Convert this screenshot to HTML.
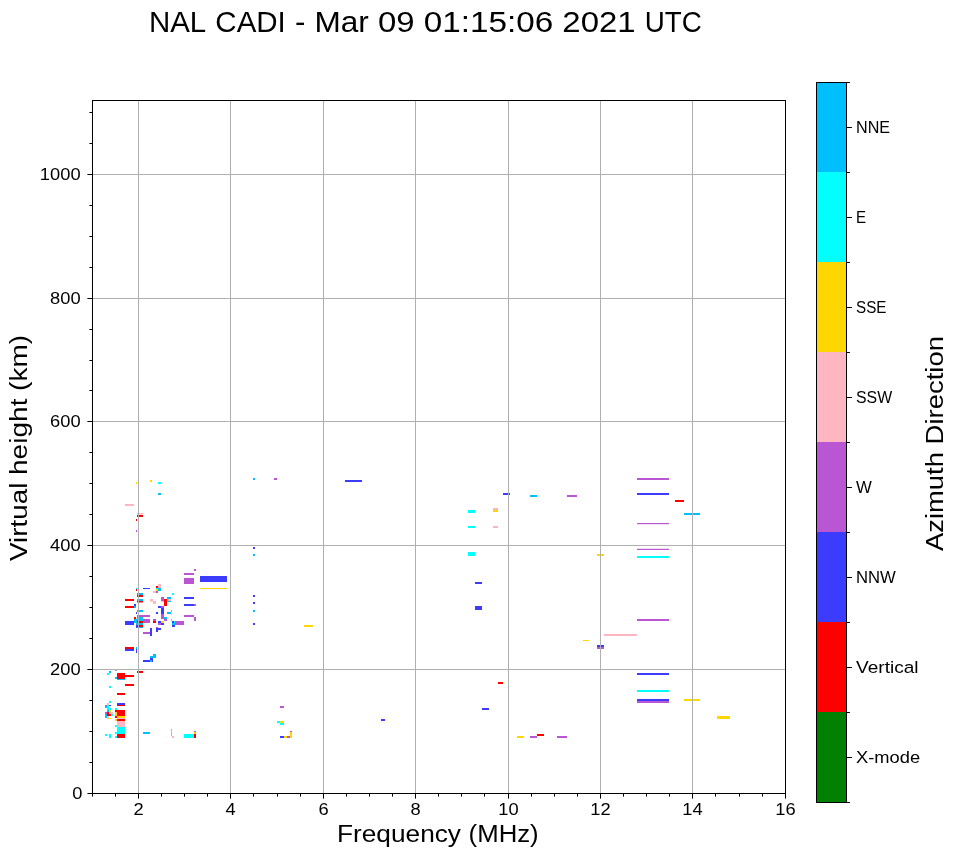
<!DOCTYPE html>
<html><head><meta charset="utf-8"><style>
html,body{margin:0;padding:0;background:#fff;}
svg{display:block;font-family:"Liberation Sans",sans-serif;will-change:transform;}
</style></head><body>
<svg width="958" height="857" viewBox="0 0 958 857">
<rect width="958" height="857" fill="#fff"/>
<g><rect x="253" y="478" width="2" height="2" fill="#00bfff"/><rect x="274" y="478" width="3" height="2" fill="#ba55d3"/><rect x="345" y="480" width="17" height="2" fill="#3c3cff"/><rect x="503" y="493" width="7" height="2" fill="#3c3cff"/><rect x="468" y="510" width="7" height="3" fill="#00ffff"/><rect x="493" y="508" width="5" height="2" fill="#ffb6c1"/><rect x="493" y="510" width="5" height="2" fill="#ffd700"/><rect x="468" y="526" width="7" height="2" fill="#00ffff"/><rect x="493" y="526" width="5" height="2" fill="#ffb6c1"/><rect x="530" y="495" width="7" height="2" fill="#00bfff"/><rect x="567" y="495" width="10" height="2" fill="#ba55d3"/><rect x="468" y="552" width="7" height="4" fill="#00ffff"/><rect x="475" y="582" width="7" height="2" fill="#3c3cff"/><rect x="475" y="606" width="7" height="4" fill="#3c3cff"/><rect x="253" y="547" width="2" height="2" fill="#3c3cff"/><rect x="253" y="554" width="2" height="2" fill="#00bfff"/><rect x="253" y="595" width="2" height="2" fill="#3c3cff"/><rect x="253" y="602" width="2" height="2" fill="#3c3cff"/><rect x="253" y="610" width="2" height="2" fill="#00bfff"/><rect x="253" y="623" width="2" height="2" fill="#3c3cff"/><rect x="304" y="625" width="9" height="2" fill="#ffd700"/><rect x="637" y="478" width="32" height="2" fill="#ba55d3"/><rect x="637" y="493" width="32" height="2" fill="#3c3cff"/><rect x="675" y="500" width="9" height="2" fill="#ff0000"/><rect x="684" y="513" width="16" height="2" fill="#00bfff"/><rect x="637" y="523" width="32" height="1.2" fill="#ba55d3"/><rect x="637" y="548.8" width="32" height="1.2" fill="#ba55d3"/><rect x="637" y="556" width="32" height="2" fill="#00ffff"/><rect x="637" y="619" width="32" height="2" fill="#ba55d3"/><rect x="604" y="634" width="33" height="2" fill="#ffb6c1"/><rect x="583" y="640" width="6" height="1" fill="#ffd700"/><rect x="597" y="645" width="7" height="2" fill="#3c3cff"/><rect x="597" y="647" width="7" height="2" fill="#ba55d3"/><rect x="637" y="673" width="32" height="2" fill="#3c3cff"/><rect x="637" y="690" width="32" height="2" fill="#00ffff"/><rect x="637" y="699" width="32" height="2" fill="#3c3cff"/><rect x="637" y="701" width="32" height="2" fill="#ba55d3"/><rect x="684" y="699" width="16" height="2" fill="#ffd700"/><rect x="717" y="716" width="13" height="3" fill="#ffd700"/><rect x="498" y="682" width="5" height="2" fill="#ff0000"/><rect x="482" y="708" width="7" height="2" fill="#3c3cff"/><rect x="517" y="736" width="7" height="2" fill="#ffd700"/><rect x="530" y="736" width="7" height="2" fill="#ba55d3"/><rect x="537" y="734" width="7" height="2" fill="#ff0000"/><rect x="557" y="736" width="10" height="2" fill="#ba55d3"/><rect x="280" y="706" width="4" height="2" fill="#ba55d3"/><rect x="277" y="721" width="3" height="2" fill="#00ffff"/><rect x="280" y="721" width="4" height="2" fill="#ffd700"/><rect x="280" y="723" width="4" height="2" fill="#00ffff"/><rect x="280" y="736" width="4" height="2" fill="#3c3cff"/><rect x="284" y="736" width="3" height="2" fill="#ffd700"/><rect x="287" y="736" width="3" height="2" fill="#ba55d3"/><rect x="290" y="732" width="2" height="6" fill="#ffd700"/><rect x="290" y="731" width="2" height="1" fill="#ba55d3"/><rect x="381" y="719" width="4" height="2" fill="#3c3cff"/><rect x="194" y="569" width="2" height="2" fill="#ba55d3"/><rect x="184" y="573" width="10" height="2" fill="#ba55d3"/><rect x="184" y="578" width="10" height="6" fill="#ba55d3"/><rect x="200" y="576" width="27" height="6" fill="#3c3cff"/><rect x="200" y="588" width="27" height="1" fill="#ffd700"/><rect x="172" y="593" width="2" height="2" fill="#00ffff"/><rect x="184" y="597" width="10" height="2" fill="#3c3cff"/><rect x="184" y="604" width="10" height="2" fill="#3c3cff"/><rect x="194" y="604" width="2" height="2" fill="#ba55d3"/><rect x="184" y="615" width="10" height="2" fill="#ba55d3"/><rect x="194" y="617" width="2" height="4" fill="#ba55d3"/><rect x="175" y="621" width="9" height="4" fill="#ba55d3"/><rect x="136" y="588" width="1" height="1" fill="#00ffff"/><rect x="136" y="589" width="1" height="2" fill="#ff0000"/><rect x="143" y="588" width="7" height="1" fill="#3c3cff"/><rect x="158" y="584" width="3" height="4" fill="#ffb6c1"/><rect x="156" y="586" width="2" height="2" fill="#ff0000"/><rect x="156" y="588" width="2" height="1" fill="#00ffff"/><rect x="158" y="588" width="3" height="3" fill="#00bfff"/><rect x="156" y="589" width="2" height="2" fill="#ffd700"/><rect x="153" y="591" width="3" height="2" fill="#ffb6c1"/><rect x="156" y="591" width="2" height="2" fill="#ba55d3"/><rect x="137" y="593" width="6" height="2" fill="#00bfff"/><rect x="137" y="595" width="6" height="2" fill="#ff0000"/><rect x="137" y="599" width="6" height="2" fill="#00bfff"/><rect x="137" y="601" width="6" height="1.5" fill="#ff0000"/><rect x="150" y="599" width="3" height="2.5" fill="#ffb6c1"/><rect x="153" y="601" width="3" height="3" fill="#ffb6c1"/><rect x="161" y="597" width="3" height="4" fill="#ba55d3"/><rect x="161" y="601" width="3" height="1" fill="#ffb6c1"/><rect x="164" y="599" width="3" height="7" fill="#ff0000"/><rect x="167" y="597" width="4" height="2" fill="#00bfff"/><rect x="167" y="599" width="4" height="2" fill="#ffb6c1"/><rect x="167" y="601" width="4" height="1" fill="#00bfff"/><rect x="125" y="599" width="9" height="2" fill="#ff0000"/><rect x="134" y="604" width="2" height="2" fill="#3c3cff"/><rect x="125" y="606" width="9" height="2" fill="#ff0000"/><rect x="134" y="606" width="2" height="2" fill="#00bfff"/><rect x="137" y="610" width="6" height="2" fill="#00bfff"/><rect x="136" y="612" width="1" height="2" fill="#3c3cff"/><rect x="137" y="615" width="13" height="2" fill="#ba55d3"/><rect x="134" y="617" width="2" height="2" fill="#ff0000"/><rect x="137" y="617" width="6" height="4" fill="#00bfff"/><rect x="134" y="619" width="3" height="4" fill="#00bfff"/><rect x="143" y="619" width="7" height="4" fill="#ba55d3"/><rect x="125" y="621" width="9" height="4" fill="#3c3cff"/><rect x="137" y="621" width="6" height="2" fill="#ff0000"/><rect x="136" y="623" width="7" height="2" fill="#00bfff"/><rect x="137" y="625" width="6" height="2" fill="#ff0000"/><rect x="137" y="627" width="6" height="1" fill="#00bfff"/><rect x="136" y="625" width="1" height="3" fill="#3c3cff"/><rect x="153" y="619" width="3" height="2" fill="#ba55d3"/><rect x="153" y="621" width="3" height="2" fill="#ff0000"/><rect x="158" y="606" width="3" height="2" fill="#3c3cff"/><rect x="156" y="612" width="2" height="2" fill="#3c3cff"/><rect x="158" y="621" width="3" height="2" fill="#3c3cff"/><rect x="158" y="623" width="3" height="2" fill="#ba55d3"/><rect x="150" y="628" width="2" height="8" fill="#3c3cff"/><rect x="143" y="632" width="7" height="2" fill="#ba55d3"/><rect x="156" y="628" width="2" height="4" fill="#3c3cff"/><rect x="158" y="628" width="3" height="2" fill="#3c3cff"/><rect x="156" y="627" width="2" height="1" fill="#ba55d3"/><rect x="125" y="647" width="9" height="2" fill="#ff0000"/><rect x="125" y="649" width="9" height="2" fill="#3c3cff"/><rect x="136" y="647" width="1" height="3" fill="#00bfff"/><rect x="161" y="606" width="3" height="2" fill="#ba55d3"/><rect x="161" y="608" width="3" height="6" fill="#3c3cff"/><rect x="161" y="614" width="3" height="5" fill="#ba55d3"/><rect x="167" y="612" width="4" height="2" fill="#00bfff"/><rect x="171" y="610" width="1" height="2" fill="#00ffff"/><rect x="171" y="614" width="1" height="1" fill="#ffb6c1"/><rect x="164" y="617" width="3" height="2" fill="#00bfff"/><rect x="164" y="619" width="3" height="2" fill="#ba55d3"/><rect x="171" y="619" width="1" height="2" fill="#00ffff"/><rect x="161" y="621" width="3" height="2" fill="#ffd700"/><rect x="161" y="623" width="3" height="2" fill="#3c3cff"/><rect x="172" y="621" width="2" height="2" fill="#3c3cff"/><rect x="174" y="621" width="1" height="2" fill="#00ffff"/><rect x="172" y="623" width="3" height="2" fill="#00bfff"/><rect x="172" y="625" width="3" height="2" fill="#3c3cff"/><rect x="136" y="649" width="1" height="4" fill="#3c3cff"/><rect x="143" y="660" width="7" height="2" fill="#3c3cff"/><rect x="150" y="658" width="3" height="4" fill="#3c3cff"/><rect x="150" y="660" width="2" height="2" fill="#00bfff"/><rect x="150" y="656" width="3" height="2" fill="#00bfff"/><rect x="153" y="654" width="3" height="4" fill="#00bfff"/><rect x="115" y="669" width="2" height="1.5" fill="#3c3cff"/><rect x="109" y="671" width="2" height="2" fill="#00bfff"/><rect x="107" y="673" width="2" height="2" fill="#00ffff"/><rect x="117" y="673" width="8" height="6" fill="#ff0000"/><rect x="125" y="675" width="9" height="2" fill="#ff0000"/><rect x="115" y="677" width="2" height="2" fill="#00bfff"/><rect x="117" y="679" width="8" height="1" fill="#00bfff"/><rect x="137" y="671" width="6" height="2" fill="#ff0000"/><rect x="125" y="684" width="9" height="2" fill="#ff0000"/><rect x="109" y="686" width="2" height="2" fill="#00ffff"/><rect x="117" y="693" width="8" height="2" fill="#ff0000"/><rect x="109" y="701" width="2" height="2" fill="#00ffff"/><rect x="107" y="703" width="2" height="2" fill="#ffb6c1"/><rect x="105" y="705" width="2" height="1" fill="#ba55d3"/><rect x="109" y="705" width="2" height="1" fill="#3c3cff"/><rect x="105" y="706" width="2" height="2" fill="#00bfff"/><rect x="107" y="705" width="2" height="5" fill="#00ffff"/><rect x="109" y="708" width="2" height="2" fill="#00ffff"/><rect x="107" y="710" width="2" height="2" fill="#00bfff"/><rect x="109" y="710" width="2" height="2" fill="#ffd700"/><rect x="105" y="712" width="2" height="2" fill="#ba55d3"/><rect x="107" y="712" width="2" height="4" fill="#ff0000"/><rect x="109" y="712" width="4" height="2" fill="#ffb6c1"/><rect x="109" y="714" width="2" height="2" fill="#ff0000"/><rect x="111" y="714" width="2" height="2" fill="#00ffff"/><rect x="105" y="714" width="2" height="4" fill="#00bfff"/><rect x="107" y="716" width="2" height="2" fill="#ffb6c1"/><rect x="107" y="718" width="4" height="1" fill="#ffd700"/><rect x="117" y="703" width="8" height="2" fill="#3c3cff"/><rect x="117" y="705" width="8" height="1" fill="#ff0000"/><rect x="115" y="708" width="2" height="2" fill="#00ffff"/><rect x="115" y="710" width="10" height="2" fill="#ff0000"/><rect x="117" y="712" width="8" height="4" fill="#ff0000"/><rect x="115" y="712" width="2" height="4" fill="#ffd700"/><rect x="115" y="716" width="2" height="2" fill="#ff0000"/><rect x="117" y="716" width="8" height="2" fill="#ffd700"/><rect x="115" y="719" width="2" height="2" fill="#ffd700"/><rect x="117" y="719" width="8" height="2" fill="#ff0000"/><rect x="117" y="718" width="8" height="1" fill="#ffb6c1"/><rect x="117" y="721" width="8" height="6" fill="#ffb6c1"/><rect x="115" y="725" width="2" height="2" fill="#00ffff"/><rect x="117" y="727" width="8" height="7" fill="#00ffff"/><rect x="115" y="732" width="2" height="2" fill="#00ffff"/><rect x="117" y="734" width="8" height="4" fill="#ff0000"/><rect x="115" y="736" width="2" height="2" fill="#00ffff"/><rect x="105" y="734" width="2" height="2" fill="#00ffff"/><rect x="109" y="734" width="2" height="4" fill="#00ffff"/><rect x="143" y="732" width="7" height="2" fill="#00bfff"/><rect x="171" y="729" width="1" height="7" fill="#00ffff"/><rect x="172" y="736" width="2" height="2" fill="#ffb6c1"/><rect x="184" y="734" width="10" height="4" fill="#00ffff"/><rect x="194" y="734" width="2" height="4" fill="#ff0000"/><rect x="194" y="732" width="2" height="2" fill="#ffd700"/><rect x="194" y="731" width="2" height="1" fill="#ba55d3"/><rect x="136" y="482" width="1" height="2" fill="#ffd700"/><rect x="150" y="480" width="2" height="2" fill="#ffd700"/><rect x="158" y="482" width="3" height="2" fill="#00ffff"/><rect x="158" y="493" width="3" height="2" fill="#00bfff"/><rect x="125" y="504" width="9" height="2" fill="#ffb6c1"/><rect x="137" y="513" width="6" height="1.5" fill="#ffb6c1"/><rect x="137" y="515" width="6" height="2" fill="#ff0000"/><rect x="136" y="519" width="1" height="2" fill="#ff0000"/><rect x="136" y="530" width="1" height="2" fill="#ba55d3"/><rect x="597" y="554" width="7" height="2" fill="#ffd700"/><rect x="171" y="731" width="1" height="1" fill="#ffb6c1"/></g>
<rect x="138" y="100" width="1" height="693" fill="#b0b0b0"/>
<rect x="230" y="100" width="1" height="693" fill="#b0b0b0"/>
<rect x="323" y="100" width="1" height="693" fill="#b0b0b0"/>
<rect x="415" y="100" width="1" height="693" fill="#b0b0b0"/>
<rect x="508" y="100" width="1" height="693" fill="#b0b0b0"/>
<rect x="600" y="100" width="1" height="693" fill="#b0b0b0"/>
<rect x="692" y="100" width="1" height="693" fill="#b0b0b0"/>
<rect x="785" y="100" width="1" height="693" fill="#b0b0b0"/>
<rect x="92" y="669" width="693" height="1" fill="#b0b0b0"/>
<rect x="92" y="545" width="693" height="1" fill="#b0b0b0"/>
<rect x="92" y="421" width="693" height="1" fill="#b0b0b0"/>
<rect x="92" y="298" width="693" height="1" fill="#b0b0b0"/>
<rect x="92" y="174" width="693" height="1" fill="#b0b0b0"/>
<rect x="92" y="100" width="694" height="1" fill="#000"/>
<rect x="92" y="793" width="694" height="1" fill="#000"/>
<rect x="92" y="100" width="1" height="694" fill="#000"/>
<rect x="785" y="100" width="1" height="694" fill="#000"/>
<rect x="138" y="794" width="1" height="4.6" fill="#000"/>
<rect x="230" y="794" width="1" height="4.6" fill="#000"/>
<rect x="323" y="794" width="1" height="4.6" fill="#000"/>
<rect x="415" y="794" width="1" height="4.6" fill="#000"/>
<rect x="508" y="794" width="1" height="4.6" fill="#000"/>
<rect x="600" y="794" width="1" height="4.6" fill="#000"/>
<rect x="692" y="794" width="1" height="4.6" fill="#000"/>
<rect x="785" y="794" width="1" height="4.6" fill="#000"/>
<rect x="92" y="794" width="1" height="2.6" fill="#000"/>
<rect x="115" y="794" width="1" height="2.6" fill="#000"/>
<rect x="161" y="794" width="1" height="2.6" fill="#000"/>
<rect x="184" y="794" width="1" height="2.6" fill="#000"/>
<rect x="207" y="794" width="1" height="2.6" fill="#000"/>
<rect x="253" y="794" width="1" height="2.6" fill="#000"/>
<rect x="277" y="794" width="1" height="2.6" fill="#000"/>
<rect x="300" y="794" width="1" height="2.6" fill="#000"/>
<rect x="346" y="794" width="1" height="2.6" fill="#000"/>
<rect x="369" y="794" width="1" height="2.6" fill="#000"/>
<rect x="392" y="794" width="1" height="2.6" fill="#000"/>
<rect x="438" y="794" width="1" height="2.6" fill="#000"/>
<rect x="461" y="794" width="1" height="2.6" fill="#000"/>
<rect x="484" y="794" width="1" height="2.6" fill="#000"/>
<rect x="531" y="794" width="1" height="2.6" fill="#000"/>
<rect x="554" y="794" width="1" height="2.6" fill="#000"/>
<rect x="577" y="794" width="1" height="2.6" fill="#000"/>
<rect x="623" y="794" width="1" height="2.6" fill="#000"/>
<rect x="646" y="794" width="1" height="2.6" fill="#000"/>
<rect x="669" y="794" width="1" height="2.6" fill="#000"/>
<rect x="715" y="794" width="1" height="2.6" fill="#000"/>
<rect x="739" y="794" width="1" height="2.6" fill="#000"/>
<rect x="762" y="794" width="1" height="2.6" fill="#000"/>
<rect x="87.4" y="793" width="4.6" height="1" fill="#000"/>
<rect x="87.4" y="669" width="4.6" height="1" fill="#000"/>
<rect x="87.4" y="545" width="4.6" height="1" fill="#000"/>
<rect x="87.4" y="421" width="4.6" height="1" fill="#000"/>
<rect x="87.4" y="298" width="4.6" height="1" fill="#000"/>
<rect x="87.4" y="174" width="4.6" height="1" fill="#000"/>
<rect x="89.4" y="762" width="2.6" height="1" fill="#000"/>
<rect x="89.4" y="731" width="2.6" height="1" fill="#000"/>
<rect x="89.4" y="700" width="2.6" height="1" fill="#000"/>
<rect x="89.4" y="638" width="2.6" height="1" fill="#000"/>
<rect x="89.4" y="607" width="2.6" height="1" fill="#000"/>
<rect x="89.4" y="576" width="2.6" height="1" fill="#000"/>
<rect x="89.4" y="514" width="2.6" height="1" fill="#000"/>
<rect x="89.4" y="483" width="2.6" height="1" fill="#000"/>
<rect x="89.4" y="452" width="2.6" height="1" fill="#000"/>
<rect x="89.4" y="390" width="2.6" height="1" fill="#000"/>
<rect x="89.4" y="360" width="2.6" height="1" fill="#000"/>
<rect x="89.4" y="329" width="2.6" height="1" fill="#000"/>
<rect x="89.4" y="267" width="2.6" height="1" fill="#000"/>
<rect x="89.4" y="236" width="2.6" height="1" fill="#000"/>
<rect x="89.4" y="205" width="2.6" height="1" fill="#000"/>
<rect x="89.4" y="143" width="2.6" height="1" fill="#000"/>
<rect x="89.4" y="112" width="2.6" height="1" fill="#000"/>
<text x="138.50" y="815.00" font-size="16.29" text-anchor="middle" textLength="10.18" lengthAdjust="spacingAndGlyphs">2</text>
<text x="230.50" y="815.00" font-size="16.29" text-anchor="middle" textLength="10.18" lengthAdjust="spacingAndGlyphs">4</text>
<text x="323.50" y="815.00" font-size="16.29" text-anchor="middle" textLength="10.18" lengthAdjust="spacingAndGlyphs">6</text>
<text x="415.50" y="815.00" font-size="16.29" text-anchor="middle" textLength="10.18" lengthAdjust="spacingAndGlyphs">8</text>
<text x="508.50" y="815.00" font-size="16.29" text-anchor="middle" textLength="20.36" lengthAdjust="spacingAndGlyphs">10</text>
<text x="600.50" y="815.00" font-size="16.29" text-anchor="middle" textLength="20.36" lengthAdjust="spacingAndGlyphs">12</text>
<text x="692.50" y="815.00" font-size="16.29" text-anchor="middle" textLength="20.36" lengthAdjust="spacingAndGlyphs">14</text>
<text x="785.50" y="815.00" font-size="16.29" text-anchor="middle" textLength="20.36" lengthAdjust="spacingAndGlyphs">16</text>
<text x="82.50" y="799.20" font-size="16.29" text-anchor="end" textLength="10.18" lengthAdjust="spacingAndGlyphs">0</text>
<text x="80.60" y="675.20" font-size="16.29" text-anchor="end" textLength="30.54" lengthAdjust="spacingAndGlyphs">200</text>
<text x="80.60" y="551.20" font-size="16.29" text-anchor="end" textLength="30.54" lengthAdjust="spacingAndGlyphs">400</text>
<text x="80.60" y="427.20" font-size="16.29" text-anchor="end" textLength="30.54" lengthAdjust="spacingAndGlyphs">600</text>
<text x="80.60" y="304.20" font-size="16.29" text-anchor="end" textLength="30.54" lengthAdjust="spacingAndGlyphs">800</text>
<text x="80.60" y="180.20" font-size="16.29" text-anchor="end" textLength="40.72" lengthAdjust="spacingAndGlyphs">1000</text>
<rect x="816.5" y="82" width="30" height="90" fill="#00bfff" shape-rendering="crispEdges"/>
<rect x="816.5" y="172" width="30" height="90" fill="#00ffff" shape-rendering="crispEdges"/>
<rect x="816.5" y="262" width="30" height="90" fill="#ffd700" shape-rendering="crispEdges"/>
<rect x="816.5" y="352" width="30" height="90" fill="#ffb6c1" shape-rendering="crispEdges"/>
<rect x="816.5" y="442" width="30" height="90" fill="#ba55d3" shape-rendering="crispEdges"/>
<rect x="816.5" y="532" width="30" height="90" fill="#3c3cff" shape-rendering="crispEdges"/>
<rect x="816.5" y="622" width="30" height="90" fill="#ff0000" shape-rendering="crispEdges"/>
<rect x="816.5" y="712" width="30" height="90" fill="#008000" shape-rendering="crispEdges"/>
<rect x="816.5" y="82.5" width="30" height="720" fill="none" stroke="#000" stroke-width="1"/>
<rect x="847" y="82" width="2.9" height="1" fill="#000"/>
<rect x="847" y="172" width="2.9" height="1" fill="#000"/>
<rect x="847" y="262" width="2.9" height="1" fill="#000"/>
<rect x="847" y="352" width="2.9" height="1" fill="#000"/>
<rect x="847" y="442" width="2.9" height="1" fill="#000"/>
<rect x="847" y="532" width="2.9" height="1" fill="#000"/>
<rect x="847" y="622" width="2.9" height="1" fill="#000"/>
<rect x="847" y="712" width="2.9" height="1" fill="#000"/>
<rect x="847" y="802" width="2.9" height="1" fill="#000"/>
<rect x="847" y="127" width="4.9" height="1" fill="#000"/>
<text x="856.00" y="133.30" font-size="16.29" text-anchor="start" textLength="34.05" lengthAdjust="spacingAndGlyphs">NNE</text>
<rect x="847" y="217" width="4.9" height="1" fill="#000"/>
<text x="856.00" y="223.30" font-size="16.29" text-anchor="start" textLength="10.11" lengthAdjust="spacingAndGlyphs">E</text>
<rect x="847" y="307" width="4.9" height="1" fill="#000"/>
<text x="856.00" y="313.30" font-size="16.29" text-anchor="start" textLength="30.42" lengthAdjust="spacingAndGlyphs">SSE</text>
<rect x="847" y="397" width="4.9" height="1" fill="#000"/>
<text x="856.00" y="403.30" font-size="16.29" text-anchor="start" textLength="36.13" lengthAdjust="spacingAndGlyphs">SSW</text>
<rect x="847" y="487" width="4.9" height="1" fill="#000"/>
<text x="856.00" y="493.30" font-size="16.29" text-anchor="start" textLength="15.82" lengthAdjust="spacingAndGlyphs">W</text>
<rect x="847" y="577" width="4.9" height="1" fill="#000"/>
<text x="856.00" y="583.30" font-size="16.29" text-anchor="start" textLength="39.76" lengthAdjust="spacingAndGlyphs">NNW</text>
<rect x="847" y="667" width="4.9" height="1" fill="#000"/>
<text x="856.00" y="673.30" font-size="16.29" text-anchor="start" textLength="62.59" lengthAdjust="spacingAndGlyphs">Vertical</text>
<rect x="847" y="757" width="4.9" height="1" fill="#000"/>
<text x="856.00" y="763.30" font-size="16.29" text-anchor="start" textLength="64.07" lengthAdjust="spacingAndGlyphs">X-mode</text>
<text x="148.90" y="31.80" font-size="30.10" textLength="57.29" lengthAdjust="spacingAndGlyphs">NAL</text><text x="215.35" y="31.80" font-size="30.10" textLength="70.48" lengthAdjust="spacingAndGlyphs">CADI</text><text x="294.98" y="31.80" font-size="30.10" textLength="10.39" lengthAdjust="spacingAndGlyphs">-</text><text x="314.53" y="31.80" font-size="30.10" textLength="54.34" lengthAdjust="spacingAndGlyphs">Mar</text><text x="378.02" y="31.80" font-size="30.10" textLength="36.65" lengthAdjust="spacingAndGlyphs">09</text><text x="423.82" y="31.80" font-size="30.10" textLength="129.35" lengthAdjust="spacingAndGlyphs">01:15:06</text><text x="562.33" y="31.80" font-size="30.10" textLength="73.29" lengthAdjust="spacingAndGlyphs">2021</text><text x="644.77" y="31.80" font-size="30.10" textLength="57.09" lengthAdjust="spacingAndGlyphs">UTC</text>
<text x="337.00" y="841.70" font-size="24.43" textLength="123.99" lengthAdjust="spacingAndGlyphs">Frequency</text><text x="468.61" y="841.70" font-size="24.43" textLength="70.08" lengthAdjust="spacingAndGlyphs">(MHz)</text>
<g transform="translate(27.2,448) rotate(-90)"><text x="-113.09" y="0.00" font-size="24.43" textLength="78.42" lengthAdjust="spacingAndGlyphs">Virtual</text><text x="-27.04" y="0.00" font-size="24.43" textLength="76.50" lengthAdjust="spacingAndGlyphs">height</text><text x="57.09" y="0.00" font-size="24.43" textLength="56.00" lengthAdjust="spacingAndGlyphs">(km)</text></g>
<g transform="translate(942.9,443.5) rotate(-90)"><text x="-107.47" y="0.00" font-size="24.43" textLength="98.89" lengthAdjust="spacingAndGlyphs">Azimuth</text><text x="-0.95" y="0.00" font-size="24.43" textLength="108.42" lengthAdjust="spacingAndGlyphs">Direction</text></g>
</svg></body></html>
